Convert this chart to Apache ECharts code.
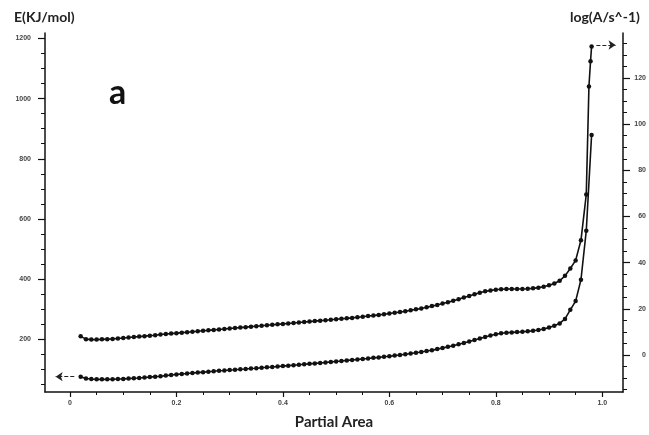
<!DOCTYPE html>
<html>
<head>
<meta charset="utf-8">
<script src="https://cdn.jsdelivr.net/npm/echarts@6/dist/echarts.min.js"></script>
<style>
html,body{margin:0;padding:0;background:#fff;}
#chart{width:649px;height:435px;}
</style>
</head>
<body>
<div id="chart"></div>
<script>
// ---- data ----
const partialArea = [0.02,0.03,0.04,0.05,0.06,0.07,0.08,0.09,0.10,
  0.11,0.12,0.13,0.14,0.15,0.16,0.17,0.18,0.19,0.20,
  0.21,0.22,0.23,0.24,0.25,0.26,0.27,0.28,0.29,0.30,
  0.31,0.32,0.33,0.34,0.35,0.36,0.37,0.38,0.39,0.40,
  0.41,0.42,0.43,0.44,0.45,0.46,0.47,0.48,0.49,0.50,
  0.51,0.52,0.53,0.54,0.55,0.56,0.57,0.58,0.59,0.60,
  0.61,0.62,0.63,0.64,0.65,0.66,0.67,0.68,0.69,0.70,
  0.71,0.72,0.73,0.74,0.75,0.76,0.77,0.78,0.79,0.80,
  0.81,0.82,0.83,0.84,0.85,0.86,0.87,0.88,0.89,0.90,
  0.91,0.92,0.93,0.94,0.95,0.96,0.97,0.98];
const energyE = [76,70,68,67,67,67,67.5,68,68.5,
  69.5,70.5,71.5,73,74.5,76,77.5,79.5,81.5,83.5,
  85,86.5,88,89.5,91,92.5,94,95.5,96.5,98,
  99,100.5,101.5,103,104,105.5,107,108,109.5,111,
  112.5,114,115.5,117,118.5,120,121.5,123,125,126.5,
  128,130,131.5,133,135,136.5,138.5,140,142,144,
  146,148,150.5,153,155.5,158,161,164,167.5,171,
  175,179,183.5,188,193,198,203,208,213,217,
  220,222,223,224,225,226.5,228.5,231,234.5,239,
  245,253,268,298,327,398,561,879];
const partialAreaLogA = [0.02,0.03,0.04,0.05,0.06,0.07,0.08,0.09,0.10,
  0.11,0.12,0.13,0.14,0.15,0.16,0.17,0.18,0.19,0.20,
  0.21,0.22,0.23,0.24,0.25,0.26,0.27,0.28,0.29,0.30,
  0.31,0.32,0.33,0.34,0.35,0.36,0.37,0.38,0.39,0.40,
  0.41,0.42,0.43,0.44,0.45,0.46,0.47,0.48,0.49,0.50,
  0.51,0.52,0.53,0.54,0.55,0.56,0.57,0.58,0.59,0.60,
  0.61,0.62,0.63,0.64,0.65,0.66,0.67,0.68,0.69,0.70,
  0.71,0.72,0.73,0.74,0.75,0.76,0.77,0.78,0.79,0.80,
  0.81,0.82,0.83,0.84,0.85,0.86,0.87,0.88,0.89,0.90,
  0.91,0.92,0.93,0.94,0.95,0.96,0.97,0.975,0.978,0.98];
const logA = [8.1,6.9,6.7,6.7,6.8,6.9,7.0,7.2,7.4,
  7.6,7.8,8.0,8.2,8.4,8.6,8.9,9.1,9.3,9.5,
  9.7,9.9,10.1,10.3,10.5,10.7,10.9,11.1,11.3,11.5,
  11.7,11.9,12.1,12.3,12.5,12.7,12.9,13.1,13.3,13.5,
  13.7,13.9,14.1,14.3,14.5,14.7,14.9,15.1,15.3,15.5,
  15.7,15.9,16.1,16.4,16.6,16.9,17.1,17.4,17.7,18.0,
  18.3,18.6,19.0,19.4,19.8,20.2,20.7,21.2,21.7,22.3,
  22.9,23.5,24.2,24.9,25.6,26.3,27.0,27.6,28.0,28.3,
  28.5,28.6,28.6,28.6,28.6,28.7,28.9,29.2,29.6,30.2,
  31.0,32.2,34.3,37.5,41.0,49.7,69.6,116.3,127.3,133.7];

// ---- ticks ----
const xMajorTicks = [0,0.2,0.4,0.6,0.8,1.0];
const xMinorTicks = [0,0.05,0.1,0.15,0.2,0.25,0.3,0.35,0.4,0.45,0.5,0.55,0.6,0.65,0.7,0.75,0.8,0.85,0.9,0.95,1.0];
const eMajorTicks = [200,400,600,800,1000,1200];
const eMinorTicks = [50,100,150,200,250,300,350,400,450,500,550,600,650,700,750,800,850,900,950,1000,1050,1100,1150,1200];
const aMajorTicks = [0,20,40,60,80,100,120];
const aMinorTicks = [-15,-10,-5,0,5,10,15,20,25,30,35,40,45,50,55,60,65,70,75,80,85,90,95,100,105,110,115,120,125,130,135];

const eData = partialArea.map((x,i)=>[x,energyE[i]]);
const aData = partialAreaLogA.map((x,i)=>[x,logA[i]]);

const X_MIN=-0.047, X_MAX=1.039, E_MIN=25, E_MAX=1218, A_MIN=-16, A_MAX=139.5;
const ink = '#111';
const labelStyle = {fontSize:7, color:'#444', fontFamily:'Liberation Sans, Arial', fontWeight:'bold'};

const chart = echarts.init(document.getElementById('chart'), null, {renderer:'canvas'});
chart.setOption({
  animation:false,
  backgroundColor:'#fff',
  grid:{left:45,right:24,top:33,bottom:35,containLabel:false},
  title:[
    {text:'E(KJ/mol)',left:9,top:5,textStyle:{fontSize:14,fontWeight:'bold',color:'#222',fontFamily:'Lato'}},
    {text:'log(A/s^-1)',left:565,top:5,textStyle:{fontSize:14,fontWeight:'bold',color:'#222',fontFamily:'Lato'}},
    {text:'a',left:104,top:71,textStyle:{fontSize:34,fontWeight:'bold',color:'#111',fontFamily:'Lato'}}
  ],
  xAxis:[
    {type:'value',min:X_MIN,max:X_MAX,position:'bottom',
     name:'Partial Area',nameLocation:'middle',nameGap:23,
     nameTextStyle:{fontSize:15,fontWeight:'bold',color:'#222',fontFamily:'Lato'},
     axisLine:{show:true,onZero:false,lineStyle:{color:ink,width:1.5}},
     axisTick:{show:true,length:3,customValues:xMinorTicks,lineStyle:{color:ink,width:1}},
     axisLabel:{show:false},splitLine:{show:false}},
    {type:'value',min:X_MIN,max:X_MAX,position:'bottom',
     axisLine:{show:false,onZero:false},
     axisTick:{show:true,length:5,customValues:xMajorTicks,lineStyle:{color:ink,width:1.2}},
     axisLabel:Object.assign({show:true,margin:8,customValues:xMajorTicks,
       formatter:v=>v===0?'0':v.toFixed(1)},labelStyle),
     splitLine:{show:false}}
  ],
  yAxis:[
    {type:'value',min:E_MIN,max:E_MAX,position:'left',
     axisLine:{show:true,onZero:false,lineStyle:{color:ink,width:1.5}},
     axisTick:{show:true,length:4,customValues:eMinorTicks,lineStyle:{color:ink,width:1}},
     axisLabel:{show:false},splitLine:{show:false}},
    {type:'value',min:A_MIN,max:A_MAX,position:'right',
     axisLine:{show:true,onZero:false,lineStyle:{color:ink,width:1.5}},
     axisTick:{show:true,length:4,customValues:aMinorTicks,lineStyle:{color:ink,width:1}},
     axisLabel:{show:false},splitLine:{show:false}},
    {type:'value',min:E_MIN,max:E_MAX,position:'left',
     axisLine:{show:false,onZero:false},
     axisTick:{show:true,length:7,customValues:eMajorTicks,lineStyle:{color:ink,width:1.2}},
     axisLabel:Object.assign({show:true,margin:14,customValues:eMajorTicks,formatter:v=>String(v)},labelStyle),
     splitLine:{show:false}},
    {type:'value',min:A_MIN,max:A_MAX,position:'right',
     axisLine:{show:false,onZero:false},
     axisTick:{show:true,length:7,customValues:aMajorTicks,lineStyle:{color:ink,width:1.2}},
     axisLabel:Object.assign({show:true,margin:23,align:'right',customValues:aMajorTicks,formatter:v=>String(v)},labelStyle),
     splitLine:{show:false}}
  ],
  series:[
    {name:'E',type:'line',xAxisIndex:0,yAxisIndex:0,data:eData,
     symbol:'circle',symbolSize:4.5,showAllSymbol:true,
     lineStyle:{color:ink,width:1.6},itemStyle:{color:ink},
     markLine:{silent:true,symbol:['none','arrow'],symbolSize:7,label:{show:false},
       lineStyle:{type:'dashed',color:'#222',width:1},
       data:[[{coord:[0.008,76]},{coord:[-0.027,76]}]]}},
    {name:'logA',type:'line',xAxisIndex:0,yAxisIndex:1,data:aData,
     symbol:'circle',symbolSize:4.5,showAllSymbol:true,
     lineStyle:{color:ink,width:1.6},itemStyle:{color:ink},
     markLine:{silent:true,symbol:['none','arrow'],symbolSize:7,label:{show:false},
       lineStyle:{type:'dashed',color:'#222',width:1},
       data:[[{coord:[0.989,134.3]},{coord:[1.025,134.3]}]]}}
  ]
});
</script>
</body>
</html>
